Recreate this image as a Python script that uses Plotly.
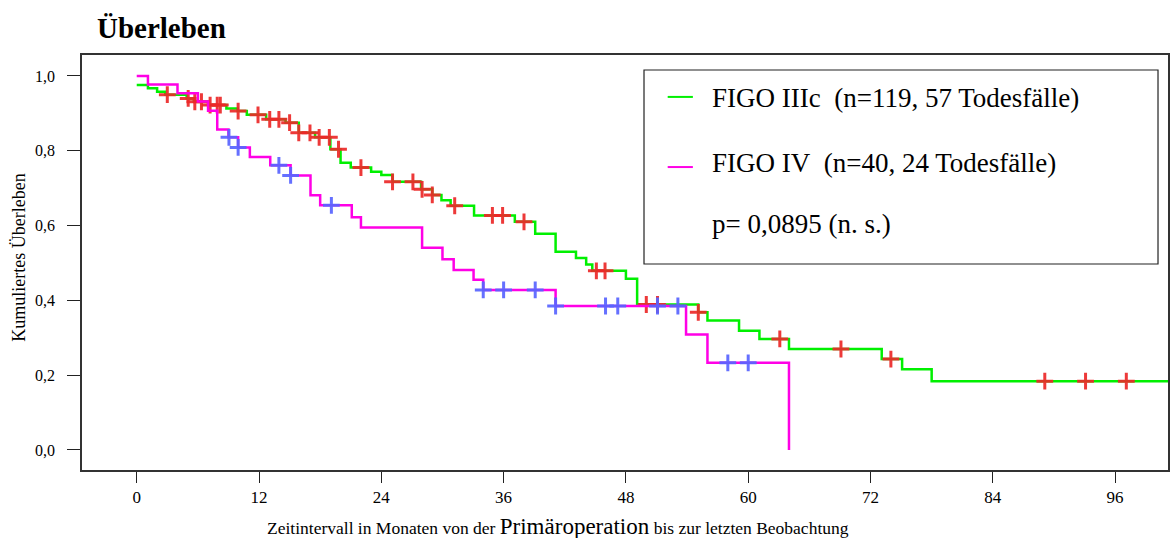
import numpy as np
import plotly.graph_objects as go

# Kaplan-Meier steps: time (months) and cumulative survival after each step
figo3c_times = [0, 1.1, 2.0, 2.8, 4.9, 5.6, 7.0, 8.8, 9.9, 10.8, 12.7, 14.6, 15.9, 17.5,
                19.0, 20.0, 21.0, 23.0, 24.0, 25.1, 27.9, 29.0, 29.9, 30.8, 33.1, 37.1,
                39.1, 41.1, 43.1, 44.1, 44.7, 48.0, 49.1, 55.1, 56.0, 59.1, 61.1, 64.0,
                73.1, 75.1, 78.0]
figo3c_surv = [0.976, 0.967, 0.958, 0.950, 0.940, 0.931, 0.922, 0.913, 0.906, 0.896,
               0.884, 0.875, 0.848, 0.836, 0.804, 0.768, 0.755, 0.744, 0.735, 0.717,
               0.697, 0.682, 0.668, 0.653, 0.627, 0.610, 0.578, 0.530, 0.513, 0.496,
               0.479, 0.458, 0.389, 0.368, 0.346, 0.319, 0.297, 0.270, 0.243, 0.216,
               0.184]
figo3c_followup_end = 104.0
figo3c_censored = [3.0, 5.05, 5.7, 6.35, 7.2, 7.9, 8.2, 9.95, 11.9, 13.05, 13.95, 15.0,
                   15.9, 17.0, 17.9, 18.9, 19.8, 22.0, 25.1, 27.1, 28.0, 29.0, 31.2,
                   34.9, 35.9, 38.0, 45.1, 45.95, 50.0, 51.1, 55.1, 63.1, 69.1, 74.0,
                   89.1, 93.1, 97.1]

figo4_times = [0, 1.1, 4.0, 6.0, 7.0, 7.9, 9.0, 9.95, 11.1, 13.1, 15.1, 17.05, 18.0,
               21.1, 22.0, 28.0, 30.0, 31.1, 33.05, 34.0, 41.1, 53.9, 56.0, 64.0]
figo4_surv = [1.0, 0.977, 0.954, 0.932, 0.907, 0.857, 0.836, 0.809, 0.783, 0.761,
              0.734, 0.681, 0.654, 0.622, 0.595, 0.541, 0.510, 0.481, 0.455, 0.428,
              0.385, 0.309, 0.233, 0.0]
figo4_censored = [9.05, 9.95, 13.95, 15.1, 19.1, 34.0, 36.0, 39.1, 41.1, 46.0, 47.2,
                  51.1, 53.1, 58.0, 60.0]

x_tick_vals = [0, 12, 24, 36, 48, 60, 72, 84, 96]
y_tick_vals = [0.0, 0.2, 0.4, 0.6, 0.8, 1.0]
y_tick_text = ["0,0", "0,2", "0,4", "0,6", "0,8", "1,0"]

legend_labels = ["FIGO IIIc\u00a0\u00a0(n=119, 57 Todesfälle)",
                 "FIGO IV\u00a0\u00a0(n=40, 24 Todesfälle)"]
p_value_text = "p= 0,0895 (n. s.)"

GREEN = "#00f000"
MAGENTA = "#ff00e6"
RED = "rgba(236,40,40,0.92)"
BLUE = "rgba(88,100,255,0.92)"
FONT = "Liberation Serif, Times New Roman, serif"


def surv_at(times, surv, t):
    idx = np.searchsorted(np.asarray(times), np.asarray(t), side="right") - 1
    return np.asarray(surv)[idx]


fig = go.Figure()

fig.add_trace(go.Scatter(
    x=figo3c_times + [figo3c_followup_end], y=figo3c_surv + [figo3c_surv[-1]],
    mode="lines", line=dict(color=GREEN, width=2.5, shape="hv"),
    name=legend_labels[0], showlegend=False, hoverinfo="skip"))
fig.add_trace(go.Scatter(
    x=figo3c_censored, y=surv_at(figo3c_times, figo3c_surv, figo3c_censored),
    mode="markers",
    marker=dict(symbol="cross-thin", size=12, line=dict(color=RED, width=3)),
    showlegend=False, hoverinfo="skip"))
fig.add_trace(go.Scatter(
    x=figo4_times, y=figo4_surv,
    mode="lines", line=dict(color=MAGENTA, width=2.5, shape="hv"),
    name=legend_labels[1], showlegend=False, hoverinfo="skip"))
fig.add_trace(go.Scatter(
    x=figo4_censored, y=surv_at(figo4_times, figo4_surv, figo4_censored),
    mode="markers",
    marker=dict(symbol="cross-thin", size=12, line=dict(color=BLUE, width=3)),
    showlegend=False, hoverinfo="skip"))

# Legend box drawn by hand (two series plus the log-rank p value)
box = dict(x0=0.5175, x1=0.9908, y0=0.4964, y1=0.9639)
fig.add_shape(type="rect", xref="paper", yref="paper", **box,
              line=dict(color="#222", width=1.2), fillcolor="white", layer="above")
# (text centre, line colour, swatch height) in paper units
legend_rows = [(0.896, GREEN, 0.899, legend_labels[0]),
               (0.740, MAGENTA, 0.730, legend_labels[1])]
for ytxt, col, yline, txt in legend_rows:
    fig.add_shape(type="line", xref="paper", yref="paper",
                  x0=0.5393, x1=0.5625, y0=yline, y1=yline,
                  line=dict(color=col, width=2))
    fig.add_annotation(xref="paper", yref="paper", x=0.578, y=ytxt, text=txt,
                       showarrow=False, xanchor="left", yanchor="middle",
                       font=dict(family=FONT, size=27, color="black"))
fig.add_annotation(xref="paper", yref="paper", x=0.578, y=0.5935, text=p_value_text,
                   showarrow=False, xanchor="left", yanchor="middle",
                   font=dict(family=FONT, size=27, color="black"))

# Axis titles
fig.add_annotation(xref="paper", yref="paper", x=0.4384, y=-0.137,
                   text="Zeitintervall in Monaten von der "
                        "<span style='font-size:23px'>Primäroperation</span>"
                        " bis zur letzten Beobachtung",
                   showarrow=False, xanchor="center", yanchor="middle",
                   font=dict(family=FONT, size=17.5, color="black"))
fig.add_annotation(xref="paper", yref="paper", x=-0.0588, y=0.512,
                   text="Kumuliertes Überleben", textangle=-90,
                   showarrow=False, xanchor="center", yanchor="middle",
                   font=dict(family=FONT, size=18, color="black"))

fig.update_layout(
    width=1172, height=538,
    margin=dict(l=82, r=2, t=55, b=68),
    paper_bgcolor="white", plot_bgcolor="white",
    title=dict(text="<b>Überleben</b>", x=97 / 1172, xanchor="left",
               y=1 - 28 / 538, yanchor="middle",
               font=dict(family=FONT, size=29, color="black")),
    font=dict(family=FONT, size=17, color="black"),
    showlegend=False,
)
fig.update_xaxes(range=[-5.37, 101.19], tickvals=x_tick_vals, ticks="outside",
                 ticklen=11, tickwidth=1.2, tickcolor="#222",
                 showline=True, linecolor="#333", linewidth=1.5, mirror=True,
                 showgrid=False, zeroline=False,
                 tickfont=dict(family=FONT, size=17))
fig.update_yaxes(range=[-0.0535, 1.056], tickvals=y_tick_vals, ticktext=y_tick_text,
                 ticks="outside", ticklen=13, tickwidth=1.2, tickcolor="#222",
                 ticklabelstandoff=9,
                 showline=True, linecolor="#333", linewidth=1.5, mirror=True,
                 showgrid=False, zeroline=False,
                 tickfont=dict(family=FONT, size=16))

fig.write_html("out.html")
